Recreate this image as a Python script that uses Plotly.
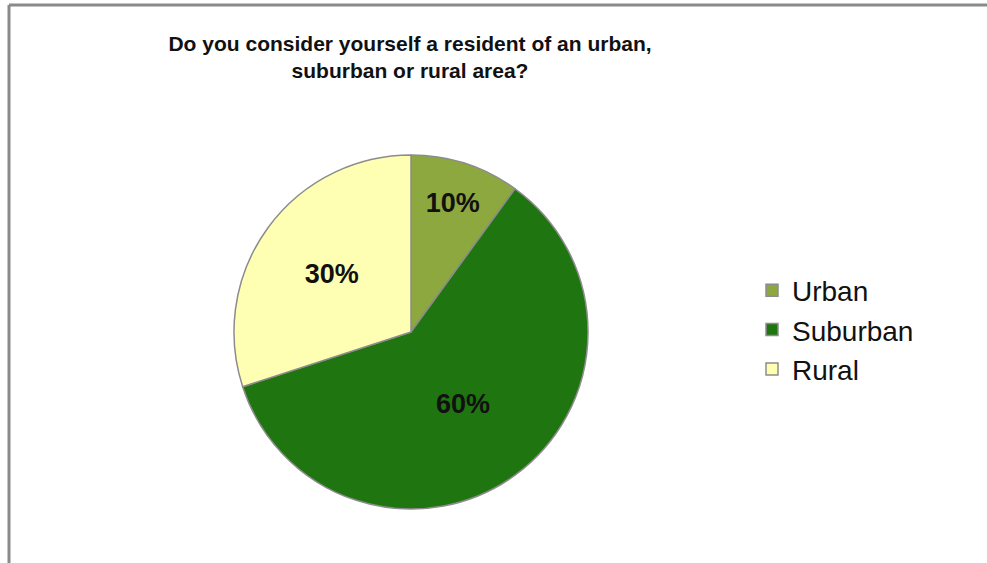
import plotly.graph_objects as go

categories = ["Urban", "Suburban", "Rural"]
values = [10, 60, 30]
colors = ["#8CA83E", "#1F7510", "#FFFFB3"]

W, H = 987, 563
FONT = "Liberation Sans, Arial, sans-serif"

fig = go.Figure()
fig.add_trace(go.Pie(
    labels=categories,
    values=values,
    sort=False,
    direction="clockwise",
    rotation=0,
    marker=dict(colors=colors, line=dict(color="#8C8C8C", width=1.5)),
    texttemplate="%{percent:.0%}",
    textposition="inside",
    insidetextorientation="horizontal",
    textfont=dict(family=FONT, size=27, color="#111111", weight="bold"),
    domain=dict(x=[233 / W, 589 / W], y=[1 - 509 / H, 1 - 155 / H]),
    hoverinfo="label+percent",
))

fig.update_layout(
    width=W, height=H,
    margin=dict(l=0, r=0, t=0, b=0),
    paper_bgcolor="white",
    plot_bgcolor="white",
    uniformtext=dict(minsize=27, mode="show"),
    title=dict(
        text="<b>Do you consider yourself a resident of an urban,<br>suburban or rural area?</b>",
        x=410 / W, xanchor="center",
        y=1 - 51 / H, yanchor="top",
        font=dict(family=FONT, size=21, color="#111111"),
    ),
    legend=dict(
        x=752 / W, xanchor="left",
        y=1 - 330 / H, yanchor="middle",
        font=dict(family=FONT, size=28, color="#111111"),
        itemwidth=30,
        bgcolor="rgba(0,0,0,0)",
    ),
    shapes=[
        dict(type="line", xref="paper", yref="paper", x0=9 / W, x1=1, y0=1 - 5 / H, y1=1 - 5 / H,
             line=dict(color="#8A8A8A", width=3)),
        dict(type="line", xref="paper", yref="paper", x0=9 / W, x1=9 / W, y0=0, y1=1 - 5 / H,
             line=dict(color="#8A8A8A", width=3)),
    ],
)

fig.write_html("out.html", config={"displayModeBar": False},
               post_script="document.body.style.margin='0';")
